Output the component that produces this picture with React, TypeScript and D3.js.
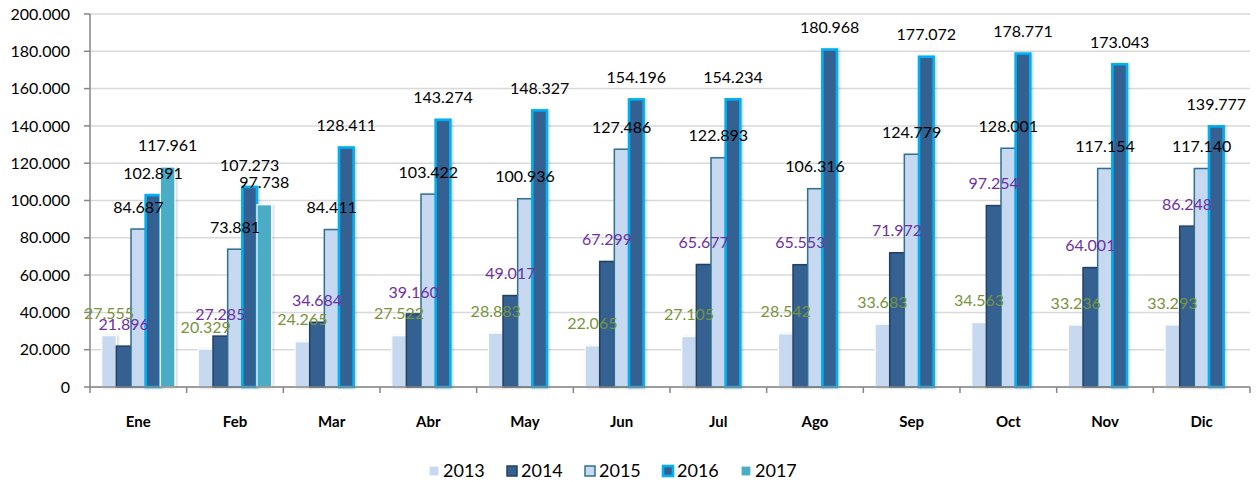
import React from "react";
import * as d3 from "d3";

const months = ["Ene", "Feb", "Mar", "Abr", "May", "Jun", "Jul", "Ago", "Sep", "Oct", "Nov", "Dic"];
const years = ["2013", "2014", "2015", "2016", "2017"];

const v2013 = [27555, 20329, 24265, 27522, 28883, 22065, 27105, 28542, 33683, 34563, 33236, 33293];
const v2014 = [21896, 27285, 34684, 39160, 49017, 67299, 65677, 65553, 71972, 97254, 64001, 86248];
const v2015 = [84687, 73881, 84411, 103422, 100936, 127486, 122893, 106316, 124779, 128001, 117154, 117140];
const v2016 = [102891, 107273, 128411, 143274, 148327, 154196, 154234, 180968, 177072, 178771, 173043, 139777];
const v2017: (number | null)[] = [117961, 97738, null, null, null, null, null, null, null, null, null, null];

const yTicks = [0, 20000, 40000, 60000, 80000, 100000, 120000, 140000, 160000, 180000, 200000];

const seriesValues = [v2013, v2014, v2015, v2016, v2017];

// look of each series, as in the Excel original
const styles = [
  { fill: "#C6D9F1", stroke: "#FFFFFF", sw: 1.2, label: "#77933C" },
  { fill: "#366092", stroke: "#244062", sw: 1.5, label: "#7030A0" },
  { fill: "#C6D9F1", stroke: "#31708F", sw: 1.5, label: "#000000" },
  { fill: "#366092", stroke: "#00B0F0", sw: 2.6, label: "#000000" },
  { fill: "#4BACC6", stroke: "#FFFFFF", sw: 1.2, label: "#000000" },
];

const W = 1259;
const H = 482;
const left = 90;
const right = 1250;
const top = 14;
const bottom = 387;
const font = "Lato, 'Open Sans', sans-serif";

const locale = d3.formatLocale({ decimal: ",", thousands: ".", grouping: [3], currency: ["", "€"] });
const fmt = locale.format(",d");

const App = () => {
  const x0 = d3.scaleBand<string>().domain(months).range([left, right]).paddingInner(0).paddingOuter(0);
  const x1 = d3.scaleBand<string>().domain(years).range([0, x0.bandwidth()]).paddingInner(0).paddingOuter(0.8);
  const y = d3.scaleLinear().domain([0, 200000]).range([bottom, top]);

  const legendStart = 428;
  const legendStep = 78;

  return (
    <svg width={W} height={H} style={{ position: "absolute", left: 0, top: 0, background: "#fff" }}>
      <defs>
        <filter id="sh" x="-30%" y="-10%" width="160%" height="120%">
          <feDropShadow dx="1.5" dy="0.5" stdDeviation="1" floodColor="#000" floodOpacity="0.18" />
        </filter>
      </defs>

      {/* grid */}
      {yTicks.map((t) => (
        <line key={"g" + t} x1={left} x2={right} y1={y(t)} y2={y(t)} stroke="#D9D9D9" strokeWidth={1.5} />
      ))}

      {/* bars */}
      {years.map((yr, si) =>
        months.map((m, mi) => {
          const v = seriesValues[si][mi];
          if (v == null) return null;
          const st = styles[si];
          const bx = (x0(m) as number) + (x1(yr) as number);
          return (
            <rect
              key={yr + m}
              x={bx}
              y={y(v)}
              width={x1.bandwidth()}
              height={bottom - y(v)}
              fill={st.fill}
              stroke={st.stroke}
              strokeWidth={st.sw}
              filter="url(#sh)"
            />
          );
        })
      )}

      {/* y axis */}
      <line x1={left} x2={left} y1={top} y2={bottom} stroke="#868686" strokeWidth={1.5} />
      {yTicks.map((t) => (
        <g key={"t" + t}>
          <line x1={left - 6} x2={left} y1={y(t)} y2={y(t)} stroke="#868686" strokeWidth={1.5} />
          <text x={70} y={y(t)} dy="0.35em" textAnchor="end" fontFamily={font} fontSize={16} fill="#000">
            {fmt(t)}
          </text>
        </g>
      ))}

      {/* x axis */}
      <line x1={left} x2={right} y1={bottom} y2={bottom} stroke="#868686" strokeWidth={1.5} />
      {months.map((m) => (
        <line key={"xt" + m} x1={x0(m) as number} x2={x0(m) as number} y1={bottom} y2={bottom + 6} stroke="#868686" strokeWidth={1.5} />
      ))}
      <line x1={right} x2={right} y1={bottom} y2={bottom + 6} stroke="#868686" strokeWidth={1.5} />
      {months.map((m) => (
        <text
          key={"xl" + m}
          x={(x0(m) as number) + x0.bandwidth() / 2}
          y={422}
          dy="0.35em"
          textAnchor="middle"
          fontFamily={font}
          fontSize={15}
          fontWeight="bold"
          fill="#000"
        >
          {m}
        </text>
      ))}

      {/* value labels */}
      {years.map((yr, si) =>
        months.map((m, mi) => {
          const v = seriesValues[si][mi];
          if (v == null) return null;
          const cx = (x0(m) as number) + (x1(yr) as number) + x1.bandwidth() / 2;
          return (
            <text
              key={"l" + yr + m}
              x={cx}
              y={y(v) - 22}
              dy="0.35em"
              textAnchor="middle"
              fontFamily={font}
              fontSize={16}
              fill={styles[si].label}
            >
              {fmt(v)}
            </text>
          );
        })
      )}

      {/* legend */}
      {years.map((yr, si) => {
        const tx = legendStart + 15 + si * legendStep;
        const st = styles[si];
        return (
          <g key={"lg" + yr}>
            <rect x={tx - 14} y={466} width={10} height={10} fill={st.fill} stroke={st.stroke} strokeWidth={st.sw} />
            <text x={tx} y={471} dy="0.35em" fontFamily={font} fontSize={18} fill="#000">
              {yr}
            </text>
          </g>
        );
      })}
    </svg>
  );
};

export default App;
